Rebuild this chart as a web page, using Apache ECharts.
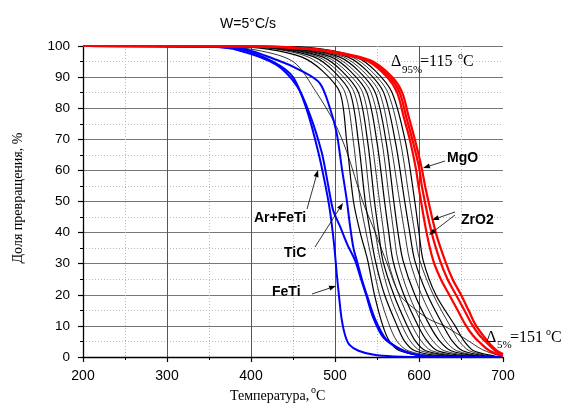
<!DOCTYPE html>
<html><head><meta charset="utf-8">
<script src="https://cdn.jsdelivr.net/npm/echarts@6/dist/echarts.min.js"></script>
<style>html,body{margin:0;padding:0;background:#fff}#c{width:561px;height:408px}</style>
</head><body><div id="c"></div>
<script>
// ---- data: [temperature °C, conversion %] ----
const blackCurves = [
  [[200,100],[380,99.8],[420,99],[460,96.5],[485,92],[506,85],[514,69],[522,50],[530,40],[539,31],[547,20],[557,10],[565,5],[577,2],[610,0.3],[700,0]],
  [[200,100],[390,99.8],[430,99],[468,96.5],[492,92],[512,85],[522,69],[530,50],[537,40],[544,31],[553,20],[565,10],[574,5],[587,2],[620,0.3],[700,0]],
  [[200,100],[395,99.8],[435,99],[475,96.5],[498,92],[518,85],[528,69],[536,50],[542,40],[548,31],[559,20],[574,10],[583,5],[595,2],[630,0.3],[700,0]],
  [[200,100],[400,99.8],[440,99],[480,96.5],[503,92],[523,85],[534,69],[542,50],[548,40],[554,31],[565,20],[580,10],[590,5],[602,2],[640,0.3],[700,0]],
  [[200,100],[405,99.8],[445,99],[485,96.5],[508,92],[528,85],[539,69],[547,50],[552,40],[557,31],[570,20],[586,10],[596,5],[608,2],[645,0.3],[700,0]],
  [[200,100],[410,99.8],[450,99],[490,96.5],[513,92],[533,85],[544,69],[553,50],[558,40],[563,31],[576,20],[592,10],[603,5],[615,2],[650,0.3],[700,0]],
  [[200,100],[415,99.8],[455,99],[495,96.5],[518,92],[538,85],[550,69],[559,50],[564,40],[569,31],[582,20],[599,10],[610,5],[622,2],[658,0.3],[700,0]],
  [[200,100],[420,99.8],[460,99],[500,96.5],[523,92],[543,85],[556,69],[565,50],[570,40],[575,31],[588,20],[605,10],[617,5],[630,2],[665,0.3],[700,0]],
  [[200,100],[425,99.8],[465,99],[505,96.5],[528,92],[548,85],[561,69],[570,50],[575,40],[581,31],[595,20],[613,10],[625,5],[638,2],[670,0.3],[700,0]],
  [[200,100],[430,99.8],[470,99],[510,96.5],[533,92],[553,85],[566,69],[577,50],[583,40],[589,31],[603,20],[621,10],[632,5],[645,2],[675,0.3],[700,0]],
  [[200,100],[435,99.8],[475,99],[515,96.5],[538,92],[558,85],[572,69],[583,50],[589,40],[595,31],[610,20],[629,10],[640,5],[652,2],[680,0.3],[700,0]],
  [[200,100],[440,99.8],[480,99],[520,96.5],[543,92],[563,85],[578,69],[589,50],[595,40],[601,31],[617,20],[637,10],[648,5],[660,2],[685,0.3],[700,0]],
  [[200,100],[445,99.8],[485,99],[525,96.5],[548,92],[568,85],[584,69],[595,50],[600,40],[605,31],[620,20],[643,10],[654,5],[665,2],[690,0.3],[700,0]],
  [[200,100],[350,99.8],[400,99],[450,95],[478,85],[500,75],[514,66],[533,50],[548,40],[562,30],[577,20],[597,15],[613,12],[630,10],[657,5.5],[676,2.3],[695,0.5],[700,0.3]]
];
const blackWidths = [1.2,0.8,1.2,0.8,1.2,0.8,1.2,0.8,1.2,0.8,1.2,0.8,1.2,0.8];

const feTi = [[200,100],[350,99.8],[387,99],[426,95],[450,90],[467,79],[480,66],[488,56],[494,47],[499,36],[502,27],[505,19],[508,12],[512,7],[517,4],[528,2],[545,0.8],[570,0.2],[620,0],[700,0]];
const arFeTi = [[200,100],[350,99.8],[387,98.5],[430,94],[455,87],[470,78],[484,66],[490,58],[494,52],[498,47],[506,42],[515,36],[524,31],[531,25],[537,20],[545,13],[557,6.5],[574,3],[590,1.2],[610,0.3],[700,0]];
const tiC = [[200,100],[380,99.5],[431,95.5],[460,92],[482,88],[494,80],[502,72],[508,61],[514,50.5],[518,42],[522,35],[527,30],[533,24],[539,19],[548,12],[560,6],[576,2.8],[592,1],[615,0.2],[700,0]];

const redA = [[200,100],[400,99.9],[470,99],[515,97],[540,95],[562,90],[574,85],[582,77],[589,70],[596,61],[600,54],[609,40],[617,31],[626,25],[636,20],[646,15],[655,10.5],[664,7],[673,4.5],[684,2],[700,0.3]];
const redB = [[200,100],[405,99.9],[473,99],[518,97],[542,95],[565,90],[577,85],[585,77],[592,70],[600,61],[604,54],[615,40],[625,31],[634,25],[644,20],[654,15],[663,10.5],[672,7],[681,4.5],[691,2],[700,0.8]];
const redC = [[200,100],[410,99.9],[476,99],[521,97],[545,95],[568,90],[580,85],[588,77],[595,70],[603,61],[608,54],[620,40],[631,31],[640,25],[650,20],[659,15],[667,10.5],[676,7],[685,4],[693,2],[700,1]];

const xTicks = [200,300,400,500,600,700];
const yTicks = [0,10,20,30,40,50,60,70,80,90,100];
const titleText = 'W=5°C/s';
const xName = 'Температура, ';
const yName = 'Доля превращения, %';

// ---- chart ----
const chart = echarts.init(document.getElementById('c'), null, {renderer:'canvas'});
const series = [];
blackCurves.forEach((d,i)=>series.push({type:'line',data:d,showSymbol:false,smooth:0.3,
  lineStyle:{color:'#000',width:blackWidths[i]},silent:true,z:2}));
[feTi,arFeTi,tiC].forEach(d=>series.push({type:'line',data:d,showSymbol:false,smooth:0.3,
  lineStyle:{color:'#0000ff',width:2},z:3}));
[redA,redB,redC].forEach(d=>series.push({type:'line',data:d,showSymbol:false,smooth:0.3,
  lineStyle:{color:'#ff0000',width:2.2},z:4}));

const sans = 'Liberation Sans, Arial, sans-serif';
const serif = 'Liberation Serif, Times New Roman, serif';

function arrow(x1,y1,x2,y2){
  const a = Math.atan2(y2-y1,x2-x1), L=7, W=2.5;
  const bx = x2-L*Math.cos(a), by = y2-L*Math.sin(a);
  return [
    {type:'line',shape:{x1,y1,x2:bx,y2:by},style:{stroke:'#000',lineWidth:0.8},z:10},
    {type:'polygon',shape:{points:[[x2,y2],[bx+W*Math.sin(a),by-W*Math.cos(a)],[bx-W*Math.sin(a),by+W*Math.cos(a)]]},style:{fill:'#000'},z:10}
  ];
}
function txt(x,y,t,size,font,weight,align){
  return {type:'text',x,y,style:{text:t,fontSize:size,fontFamily:font,fontWeight:weight||'normal',fill:'#000',align:align||'left',verticalAlign:'middle'},z:11};
}

const graphics = [
  txt(248,24,titleText,14,sans,'normal','center'),
  txt(391,62,'Δ',16,serif), txt(402,70,'95%',11,serif), txt(420,62,'=115',16,serif), txt(458,56,'o',10,serif), txt(463,62,'C',16,serif),
  txt(486,338,'Δ',16,serif), txt(497,345,'5%',11,serif), txt(510,338,'=151',16,serif), txt(546,332,'o',10,serif), txt(551,338,'C',16,serif),
  txt(447,158,'MgO',14,sans,'bold'),
  txt(461,220,'ZrO2',14,sans,'bold'),
  txt(254,218,'Ar+FeTi',14,sans,'bold'),
  txt(284,253,'TiC',14,sans,'bold'),
  txt(272,292,'FeTi',14,sans,'bold'),
  txt(230,396,xName,14,serif), txt(311,390,'o',10,serif), txt(316,396,'C',14,serif),
  {type:'text',x:18,y:198,rotation:Math.PI/2,style:{text:yName,fontSize:14,fontFamily:serif,fill:'#000',align:'center',verticalAlign:'middle'},z:11}
].concat(
  arrow(445,161,423,168),
  arrow(455,212,432,220),
  arrow(455,215,429,235),
  arrow(307,209,318,170),
  arrow(315,247,343,203),
  arrow(312,294,336,286)
);

chart.setOption({
  animation:false,
  backgroundColor:'#fff',
  grid:{left:83,right:58,top:46,bottom:51,containLabel:false},
  xAxis:{type:'value',min:xTicks[0],max:xTicks[xTicks.length-1],interval:100,
    axisLine:{show:true,onZero:false,lineStyle:{color:'#000',width:1.3}},
    axisTick:{show:true,inside:false,length:5,lineStyle:{color:'#000',width:1.2}},
    minorTick:{show:true,splitNumber:2,length:3,lineStyle:{color:'#000',width:1}},
    axisLabel:{color:'#000',fontSize:14,fontFamily:sans,margin:12},
    splitLine:{show:true,showMinLine:false,showMaxLine:false,lineStyle:{color:'#555',width:1}},
    minorSplitLine:{show:true,lineStyle:{color:'#bbb',width:1,type:[1,2]}}
  },
  yAxis:{type:'value',min:yTicks[0],max:yTicks[yTicks.length-1],interval:10,
    axisLine:{show:true,onZero:false,lineStyle:{color:'#000',width:1.3}},
    axisTick:{show:true,inside:false,length:5,lineStyle:{color:'#000',width:1.2}},
    minorTick:{show:true,splitNumber:2,length:3,lineStyle:{color:'#000',width:1}},
    axisLabel:{color:'#000',fontSize:13.5,fontFamily:sans,margin:13},
    splitLine:{show:true,showMinLine:false,lineStyle:{color:'#777',width:1}},
    minorSplitLine:{show:true,lineStyle:{color:'#bbb',width:1,type:[1,2]}}
  },
  series:series,
  graphic:graphics
});
</script></body></html>
